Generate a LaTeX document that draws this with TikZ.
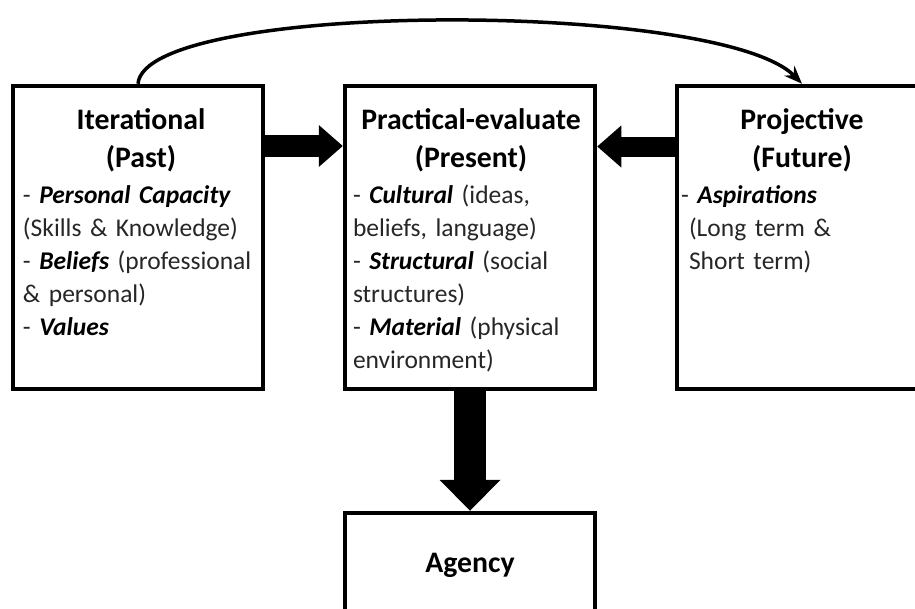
\documentclass[tikz,border=0pt]{standalone}
\usepackage{fontspec}
\setmainfont{Carlito}
\usetikzlibrary{arrows.meta}
\definecolor{bodygray}{gray}{0.15}
\newcommand{\bw}{250pt}
\newcommand{\bh}{303pt}
\newcommand{\ttl}{\fontsize{29.75}{37.4}\selectfont\bfseries\color{black}}
\newcommand{\bi}[1]{\textbf{\textit{\color{black}#1}}}

\begin{document}
\begin{tikzpicture}[x=1pt, y=-1pt,
    box/.style={draw, rectangle, line width=4.5pt, minimum width=\bw, minimum height=\bh, inner sep=0pt},
    txt/.style={anchor=north, text width=236pt, align=left, inner sep=0pt, text=bodygray,
      font=\fontsize{25.5}{33}\selectfont},
    fat/.style={line width=#1, -{Triangle[line width=0pt, length=24pt, width=42pt]}}]
    \useasboundingbox (0,0) rectangle (915,608);

    % Boxes
    \node[box] (past) at (138,237.5) {};
    \node[box] (present) at (470,237.5) {};
    \node[box] (future) at (802,237.5) {};
    \node[box, minimum height=100pt] (agency) at (470,563) {};

    % Texts
    \node[txt] (past-text) at ([xshift=3, yshift=-25]past.north) {%
      {\centering\ttl Iterational\\(Past)\par}\vspace{3.4pt}
      - \bi{Personal Capacity}\\
      (Skills \& Knowledge)\\
      - \bi{Beliefs} (professional\\
      \& personal)\\
      - \bi{Values}};
    \node[txt] (present-text) at ([xshift=1, yshift=-25]present.north) {%
      {\centering\ttl Practical-evaluate\\(Present)\par}\vspace{3.4pt}
      - \bi{Cultural} (ideas,\\
      beliefs, language)\\
      - \bi{Structural} (social\\
      structures)\\
      - \bi{Material} (physical\\
      environment)};
    \node[txt] (future-text) at ([yshift=-25]future.north) {%
      {\centering\ttl Projective\\(Future)\par}\vspace{3.4pt}
      \hspace*{-3pt}- \bi{Aspirations}\\
      \hspace*{5pt}(Long term \&\\
      \hspace*{5pt}Short term)};
    \node[font=\ttl] (agency-text) at ([yshift=-2]agency.center) {Agency};

    % Arrows
    \draw[fat=22pt] ([yshift=91.5]past.east) -- ([yshift=91.5]present.west);
    \draw[fat=20pt] ([yshift=91]future.west) -- ([yshift=91]present.east);
    \draw[line width=32pt, -{Triangle[line width=0pt, length=31pt, width=61pt]}] (present.south) -- (agency.north);
    \draw[line width=3.5pt, -{Stealth[length=18pt, width=14pt]}] (past.north) .. controls (145,0) and (720,0) .. (future.north);

\end{tikzpicture}
\end{document}
